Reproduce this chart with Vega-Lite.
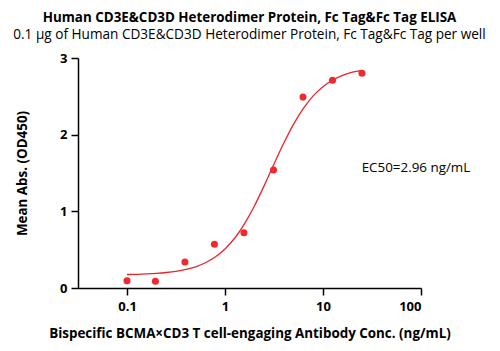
{
  "$schema": "https://vega.github.io/schema/vega-lite/v6.json",
  "autosize": "none",
  "width": 343,
  "height": 230,
  "padding": {"left": 78, "top": 58, "right": 79, "bottom": 63},
  "background": "white",
  "title": {
    "text": "Human CD3E&CD3D Heterodimer Protein, Fc Tag&Fc Tag ELISA",
    "subtitle": "0.1 µg of Human CD3E&CD3D Heterodimer Protein, Fc Tag&Fc Tag per well",
    "font": "Open Sans",
    "fontSize": 13.4,
    "fontWeight": "bold",
    "subtitleFont": "Open Sans",
    "subtitleFontSize": 13.6,
    "subtitleColor": "black",
    "subtitlePadding": 4,
    "color": "black",
    "anchor": "middle",
    "offset": 10
  },
  "config": {
    "view": {"stroke": null},
    "axis": {
      "domainColor": "black",
      "domainWidth": 1.5,
      "tickColor": "black",
      "tickWidth": 1.5,
      "tickSize": 7,
      "grid": false,
      "labelFont": "Open Sans",
      "labelFontSize": 13,
      "labelFontWeight": "bold",
      "labelColor": "black",
      "titleFont": "Open Sans",
      "titleFontSize": 13.4,
      "titleFontWeight": "bold",
      "titleColor": "black"
    }
  },
  "datasets": {
    "points": [
      {"conc": 0.1, "od": 0.095},
      {"conc": 0.195, "od": 0.087},
      {"conc": 0.39, "od": 0.34},
      {"conc": 0.78, "od": 0.57},
      {"conc": 1.56, "od": 0.72},
      {"conc": 3.125, "od": 1.54},
      {"conc": 6.25, "od": 2.49},
      {"conc": 12.5, "od": 2.71},
      {"conc": 25, "od": 2.8}
    ],
    "curve": [
      {"conc": 0.1, "od": 0.176},
      {"conc": 0.1259, "od": 0.179},
      {"conc": 0.1585, "od": 0.184},
      {"conc": 0.1995, "od": 0.191},
      {"conc": 0.2512, "od": 0.202},
      {"conc": 0.3162, "od": 0.218},
      {"conc": 0.3981, "od": 0.242},
      {"conc": 0.5012, "od": 0.277},
      {"conc": 0.631, "od": 0.329},
      {"conc": 0.7943, "od": 0.404},
      {"conc": 1, "od": 0.509},
      {"conc": 1.259, "od": 0.652},
      {"conc": 1.585, "od": 0.84},
      {"conc": 1.995, "od": 1.07},
      {"conc": 2.512, "od": 1.335},
      {"conc": 3.162, "od": 1.617},
      {"conc": 3.981, "od": 1.891},
      {"conc": 5.012, "od": 2.138},
      {"conc": 6.31, "od": 2.344},
      {"conc": 7.943, "od": 2.506},
      {"conc": 10, "od": 2.626},
      {"conc": 12.59, "od": 2.713},
      {"conc": 15.85, "od": 2.773},
      {"conc": 19.95, "od": 2.815},
      {"conc": 25, "od": 2.84}
    ],
    "label": [
      {"conc": 24.8, "od": 1.56, "text": "EC50=2.96 ng/mL"}
    ]
  },
  "layer": [
    {
      "data": {"name": "curve"},
      "mark": {"type": "line", "color": "#e8262a", "strokeWidth": 1.3, "interpolate": "monotone"},
      "encoding": {
        "x": {
          "field": "conc",
          "type": "quantitative",
          "scale": {"type": "log", "domain": [0.0316, 100], "nice": false},
          "axis": {"values": [0.1, 1, 10, 100], "format": "~g", "labelPadding": 5, "title": "Bispecific BCMA×CD3 T cell-engaging Antibody Conc. (ng/mL)", "titlePadding": 13}
        },
        "y": {
          "field": "od",
          "type": "quantitative",
          "scale": {"domain": [0, 3], "nice": false},
          "axis": {"values": [0, 1, 2, 3], "format": "d", "labelPadding": 4, "title": "Mean Abs. (OD450)", "titlePadding": 30}
        }
      }
    },
    {
      "data": {"name": "points"},
      "mark": {"type": "circle", "color": "#ee2a2e", "opacity": 1, "size": 50},
      "encoding": {
        "x": {"field": "conc", "type": "quantitative"},
        "y": {"field": "od", "type": "quantitative"}
      }
    },
    {
      "data": {"name": "label"},
      "mark": {"type": "text", "align": "left", "baseline": "middle", "font": "Open Sans", "fontSize": 13.4, "color": "black"},
      "encoding": {
        "x": {"field": "conc", "type": "quantitative"},
        "y": {"field": "od", "type": "quantitative"},
        "text": {"field": "text"}
      }
    }
  ]
}
